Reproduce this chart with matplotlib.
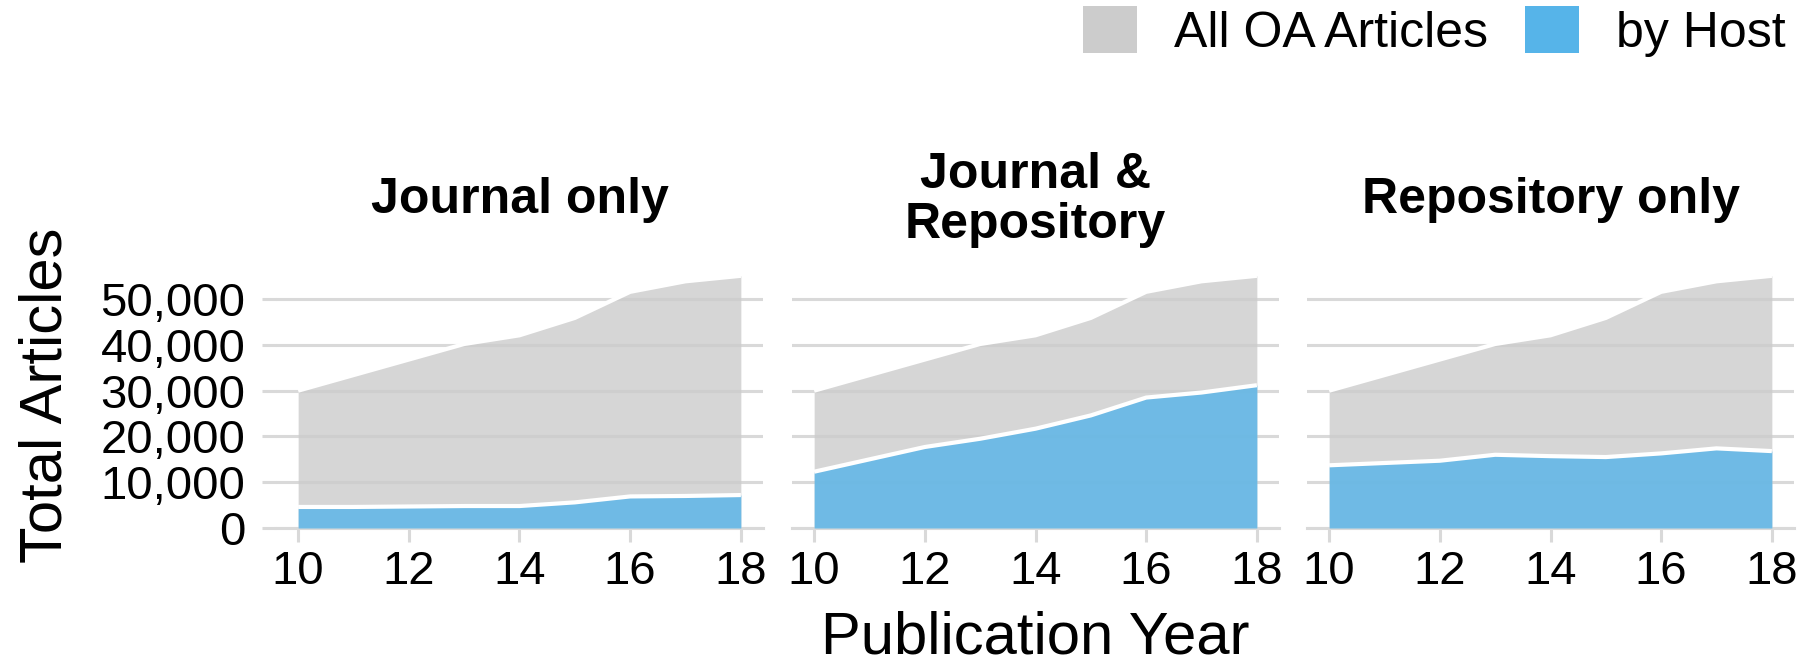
import matplotlib
matplotlib.use("Agg")
import matplotlib.pyplot as plt
from matplotlib.patches import Patch
from matplotlib.ticker import FuncFormatter

plt.rcParams['font.family'] = ['Liberation Sans', 'DejaVu Sans']

# data (thousands of articles)
years = [10, 11, 12, 13, 14, 15, 16, 17, 18]
all_oa = [30.0, 33.4, 36.8, 40.2, 42.1, 45.9, 51.6, 53.9, 55.1]
by_host = {
    'Journal only': [4.6, 4.6, 4.7, 4.8, 4.8, 5.6, 6.9, 7.0, 7.2],
    'Journal &\nRepository': [12.3, 15.0, 17.7, 19.5, 21.7, 24.6, 28.5, 29.6, 31.2],
    'Repository only': [13.7, 14.2, 14.7, 16.0, 15.7, 15.5, 16.3, 17.4, 16.8],
}
y_ticks = [0, 10000, 20000, 30000, 40000, 50000]
x_ticks = [10, 12, 14, 16, 18]

gray = '#CCCCCC'
blue = '#56B4E9'
grid_c = '#D9D9D9'

W, H = 1811, 668
fig = plt.figure(figsize=(W / 100, H / 100), dpi=100)

lefts = [276, 792, 1307]
pw = 487
bottom_px, top_px = 528, 263

for i, (name, host) in enumerate(by_host.items()):
    ax = fig.add_axes([lefts[i] / W, 1 - bottom_px / H, pw / W, (bottom_px - top_px) / H])
    tot = [v * 1000 for v in all_oa]
    hv = [v * 1000 for v in host]
    ax.fill_between(years, 0, tot, color=gray, alpha=0.8, lw=0, zorder=2)
    ax.plot(years, tot, color='white', lw=3.0, zorder=3, solid_capstyle='butt')
    ax.fill_between(years, 0, hv, color=blue, alpha=0.8, lw=0, zorder=4)
    ax.plot(years, hv, color='white', lw=3.0, zorder=5, solid_capstyle='butt')

    ax.set_xlim(9.6, 18.4)
    ax.set_ylim(0, 57900)
    ax.set_xticks(x_ticks)
    ax.set_yticks(y_ticks)
    ax.set_axisbelow(True)
    ax.yaxis.grid(True, color=grid_c, lw=2.2)
    ax.xaxis.grid(False)
    for s in ['top', 'right', 'left']:
        ax.spines[s].set_visible(False)
    ax.spines['bottom'].set_color(grid_c)
    ax.spines['bottom'].set_linewidth(2.2)
    ax.tick_params(axis='x', length=10, width=2.2, color=grid_c, labelsize=34, pad=6)
    if i == 0:
        ax.tick_params(axis='y', length=10, width=2.2, color=grid_c, labelsize=34, pad=12)
        ax.yaxis.set_major_formatter(FuncFormatter(lambda v, p: f'{int(v):,}'))
    else:
        ax.tick_params(axis='y', length=0, labelleft=False)
    ax.text(0.5, 1 + (263 - 200) / (bottom_px - top_px), name, transform=ax.transAxes,
            ha='center', va='center', fontsize=36, fontweight='bold', linespacing=1.12)

fig.text((792 + pw / 2) / W, 1 - 654 / H, 'Publication Year', ha='center', va='baseline', fontsize=43)
fig.text(46 / W, 1 - 395 / H, 'Total Articles', ha='center', va='center', rotation=90, fontsize=43)

handles = [Patch(facecolor=gray, edgecolor='none'), Patch(facecolor=blue, edgecolor='none')]
fig.legend(handles, ['All OA Articles', 'by Host'], ncol=2, loc='upper right',
           bbox_to_anchor=(1786 / W, 1 - 6 / H), frameon=False, fontsize=36,
           handlelength=1.08, handleheight=1.08, handletextpad=0.74, columnspacing=0.74,
           borderpad=0, borderaxespad=0)

fig.savefig('out.png', dpi=100)
